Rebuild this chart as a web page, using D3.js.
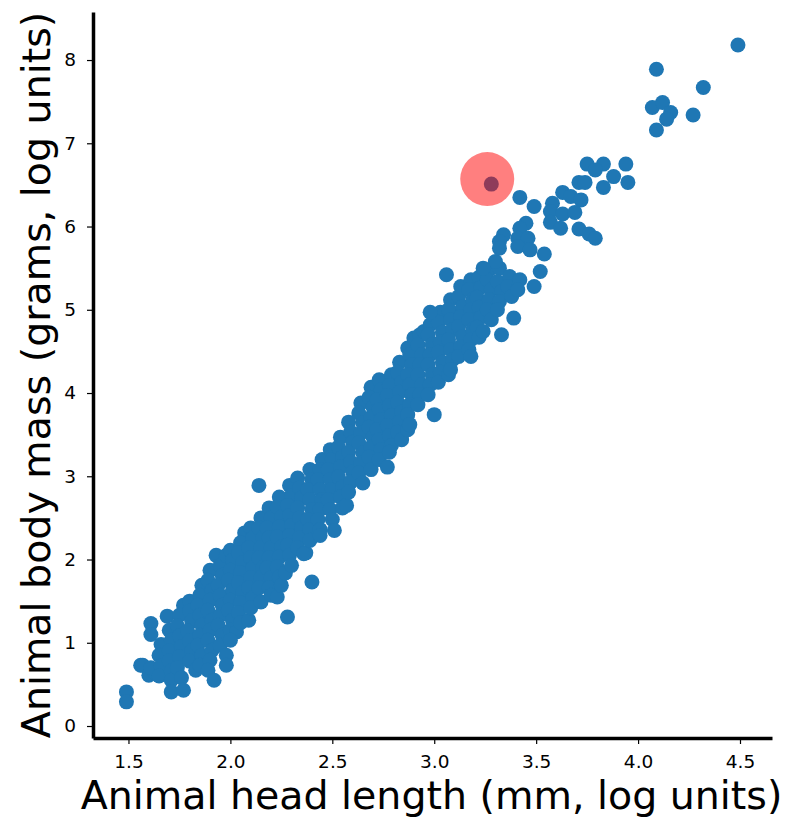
<!DOCTYPE html>
<html>
<head>
<meta charset="utf-8">
<script src="https://cdn.jsdelivr.net/npm/d3@7"></script>
<style>
  body { margin: 0; background: #fff; }
  svg { display: block; font-family: "DejaVu Sans", sans-serif; }
</style>
</head>
<body>
<svg id="chart" width="790" height="819"></svg>
<script>
// Head length vs body mass, both in log units: [head length, body mass]
const specimens = [
  // smallest animals
  [1.49,0.41],[1.49,0.29],[1.61,1.23],[1.61,1.10],[1.56,0.73],[1.57,0.73],[1.60,0.61],[1.63,0.64],
  [1.61,0.70],[1.66,0.98],[1.65,0.85],[1.66,0.72],[1.65,0.60],[1.69,1.32],
  [1.70,1.15],[1.71,1.03],[1.70,0.90],[1.70,0.78],[1.71,0.66],[1.71,0.55],[1.71,0.41],
  [1.77,1.45],[1.75,1.33],[1.74,1.20],[1.75,1.08],[1.76,0.95],[1.75,0.83],[1.74,0.70],[1.76,0.58],[1.77,0.43],
  [1.80,1.50],[1.80,1.38],[1.81,1.26],[1.79,1.14],[1.80,1.02],[1.81,0.90],[1.80,0.78],[1.83,0.67],
  [1.86,1.69],[1.85,1.57],[1.84,1.45],[1.85,1.33],[1.86,1.21],[1.85,1.09],[1.84,0.97],[1.86,0.85],[1.85,0.73],
  [1.90,1.87],[1.89,1.75],[1.91,1.63],[1.90,1.51],[1.89,1.39],[1.91,1.27],[1.90,1.15],[1.89,1.03],
  [1.91,0.91],[1.90,0.79],[1.89,0.67],[1.92,0.55],
  [1.93,2.05],[1.95,1.93],[1.96,1.81],[1.94,1.69],[1.95,1.57],[1.96,1.45],[1.95,1.33],[1.94,1.21],
  [1.96,1.09],[1.95,0.97],[1.98,0.85],[1.98,0.73],
  [1.98,2.05],[2.00,2.11],[2.01,1.99],[2.00,1.87],[1.99,1.75],[2.01,1.63],[2.00,1.51],[1.99,1.39],
  [2.01,1.27],[2.00,1.15],[2.03,1.13],[2.00,1.03],
  // small to mid-sized
  [2.07,2.32],[2.05,2.20],[2.04,2.08],[2.06,1.96],[2.05,1.84],[2.04,1.72],[2.06,1.60],[2.05,1.48],[2.04,1.36],[2.05,1.24],
  [2.09,1.27],[2.10,2.38],[2.11,2.26],[2.09,2.14],[2.10,2.02],[2.11,1.90],[2.10,1.78],[2.09,1.66],[2.11,1.54],[2.10,1.42],
  [2.15,2.50],[2.14,2.38],[2.16,2.26],[2.15,2.14],[2.14,2.02],[2.16,1.90],[2.15,1.78],[2.14,1.66],[2.15,1.49],
  [2.19,2.62],[2.20,2.50],[2.18,2.38],[2.19,2.26],[2.20,2.14],[2.19,2.02],[2.18,1.90],[2.20,1.78],[2.19,1.66],[2.20,1.57],
  [2.24,2.75],[2.23,2.63],[2.25,2.51],[2.24,2.39],[2.23,2.27],[2.25,2.15],[2.24,2.03],[2.23,1.91],[2.24,1.79],[2.23,1.55],[2.25,1.69],
  [2.27,1.84],[2.29,2.89],[2.30,2.77],[2.28,2.65],[2.29,2.53],[2.30,2.41],[2.29,2.29],[2.28,2.17],[2.29,2.05],[2.30,1.93],
  [2.33,2.98],[2.34,2.86],[2.35,2.74],[2.33,2.62],[2.34,2.50],[2.35,2.38],[2.34,2.26],[2.33,2.14],[2.37,2.08],[2.36,2.07],
  [2.39,3.08],[2.40,2.96],[2.38,2.84],[2.39,2.72],[2.40,2.60],[2.38,2.48],[2.39,2.36],[2.39,2.23],
  [2.45,3.20],[2.44,3.08],[2.43,2.96],[2.44,2.84],[2.45,2.72],[2.44,2.60],[2.43,2.48],[2.44,2.36],[2.44,2.29],
  [2.49,3.32],[2.50,3.20],[2.48,3.08],[2.49,2.96],[2.50,2.84],[2.48,2.72],[2.49,2.60],[2.50,2.48],[2.51,2.35],
  [2.54,3.47],[2.53,3.35],[2.55,3.23],[2.54,3.11],[2.53,2.99],[2.55,2.87],[2.54,2.75],[2.55,2.62],[2.57,2.65],
  [2.58,3.65],[2.59,3.53],[2.60,3.41],[2.58,3.29],[2.59,3.17],[2.60,3.05],[2.59,2.93],[2.58,2.81],
  [2.64,3.88],[2.63,3.76],[2.65,3.64],[2.64,3.52],[2.63,3.40],[2.65,3.28],[2.64,3.16],[2.63,3.04],[2.65,2.92],
  [2.69,4.07],[2.68,3.95],[2.70,3.83],[2.69,3.71],[2.68,3.59],[2.70,3.47],[2.69,3.35],[2.68,3.23],[2.69,3.08],
  [2.73,4.16],[2.74,4.04],[2.72,3.92],[2.73,3.80],[2.74,3.68],[2.72,3.56],[2.73,3.44],[2.74,3.32],[2.73,3.20],
  [2.79,4.22],[2.78,4.09],[2.77,3.97],[2.78,3.85],[2.79,3.73],[2.77,3.61],[2.78,3.49],[2.79,3.37],[2.78,3.29],
  [2.83,4.37],[2.82,4.25],[2.84,4.13],[2.83,4.01],[2.82,3.89],[2.84,3.77],[2.83,3.65],[2.82,3.53],[2.84,3.44],
  [2.87,4.54],[2.88,4.46],[2.89,4.34],[2.87,4.22],[2.88,4.10],[2.89,3.98],[2.88,3.86],[2.87,3.74],[2.87,3.56],[2.88,3.62],
  [2.90,4.66],[2.93,4.70],[2.92,4.58],[2.94,4.46],[2.93,4.34],[2.92,4.22],[2.94,4.10],[2.93,3.98],[2.92,3.86],
  [2.95,4.74],[2.98,4.82],[2.97,4.70],[2.99,4.58],[2.98,4.46],[2.97,4.34],[2.99,4.22],[2.98,4.10],[2.97,3.98],
  // larger animals
  [3.03,4.97],[3.02,4.85],[3.04,4.73],[3.03,4.61],[3.02,4.49],[3.04,4.37],[3.03,4.25],[3.02,4.13],[3.07,4.22],
  [3.08,5.12],[3.09,4.96],[3.07,5.00],[3.08,4.88],[3.09,4.76],[3.07,4.64],[3.08,4.52],[3.09,4.40],[3.08,4.28],
  [3.13,5.28],[3.12,5.16],[3.14,5.04],[3.13,4.92],[3.12,4.80],[3.14,4.68],[3.13,4.56],[3.12,4.44],
  [3.18,5.36],[3.17,5.24],[3.19,5.12],[3.18,5.00],[3.17,4.88],[3.19,4.76],[3.18,4.64],[3.17,4.52],[3.18,4.44],
  [3.22,5.39],[3.23,5.27],[3.21,5.15],[3.22,5.03],[3.23,4.91],[3.21,4.79],[3.22,4.67],[3.24,4.74],
  [3.27,5.48],[3.26,5.36],[3.28,5.24],[3.27,5.12],[3.26,5.00],[3.28,4.88],
  [3.32,5.50],[3.31,5.34],[3.33,5.22],[3.32,5.10],[3.31,5.00],
  [3.37,5.40],[3.36,5.28],[3.38,5.16],[3.42,5.36],[3.41,5.24],
  // scattered individuals off the main band
  [3.06,5.42],[2.98,4.97],[3.00,3.74],[2.77,3.11],[2.40,1.73],[2.28,1.31],[2.14,2.89],
  [3.39,4.90],[3.33,4.70],[3.30,5.58],[3.24,5.50],
  [3.45,6.04],[3.42,5.98],[3.34,5.90],[3.32,5.82],[3.32,5.74],[3.41,5.86],[3.46,5.86],[3.41,5.76],
  [3.47,5.72],[3.54,5.67],[3.52,5.46],[3.49,5.28],
  [3.42,6.35],[3.49,6.24],[3.28,6.51],
  // largest animals
  [3.75,6.75],[3.83,6.75],[3.94,6.75],[3.79,6.68],[3.88,6.60],[3.95,6.53],[3.83,6.47],[3.71,6.53],[3.74,6.53],
  [3.63,6.41],[3.67,6.36],[3.72,6.32],[3.58,6.28],[3.57,6.18],[3.63,6.15],[3.69,6.17],[3.57,6.05],
  [3.62,5.98],[3.71,5.97],[3.76,5.91],[3.79,5.86],
  [4.49,8.18],[4.09,7.89],[4.32,7.67],[4.07,7.43],[4.12,7.49],[4.16,7.37],[4.14,7.29],[4.27,7.34],[4.09,7.16]
];

// Specimen singled out with a red halo
const highlighted = [3.26, 6.57];

const xTicks = [1.5, 2.0, 2.5, 3.0, 3.5, 4.0, 4.5];
const yTicks = [0, 1, 2, 3, 4, 5, 6, 7, 8];
const xDomain = [1.326, 4.657];
const yDomain = [-0.144, 8.577];

const xLabel = "Animal head length (mm, log units)";
const yLabel = "Animal body mass (grams, log units)";

const plot = { left: 93, right: 772, top: 12, bottom: 738 };

const svg = d3.select("#chart");

const x = d3.scaleLinear().domain(xDomain).range([plot.left, plot.right]);
const y = d3.scaleLinear().domain(yDomain).range([plot.bottom, plot.top]);

// points
svg.append("g")
  .selectAll("circle")
  .data(specimens)
  .join("circle")
  .attr("cx", d => x(d[0]))
  .attr("cy", d => y(d[1]))
  .attr("r", 7.5)
  .attr("fill", "#1f77b4");

// halo over the highlighted specimen
svg.append("circle")
  .attr("cx", x(highlighted[0]))
  .attr("cy", y(highlighted[1]))
  .attr("r", 27)
  .attr("fill", "red")
  .attr("fill-opacity", 0.5);

// axes
const xAxis = svg.append("g")
  .attr("transform", `translate(0,${plot.bottom})`)
  .call(d3.axisBottom(x).tickValues(xTicks).tickFormat(d3.format(".1f"))
    .tickSize(6).tickSizeOuter(0).tickPadding(11));

const yAxis = svg.append("g")
  .attr("transform", `translate(${plot.left},0)`)
  .call(d3.axisLeft(y).tickValues(yTicks).tickFormat(d3.format("d"))
    .tickSize(6).tickSizeOuter(0).tickPadding(11));

[xAxis, yAxis].forEach(a => {
  a.select(".domain").attr("stroke", "#000").attr("stroke-width", 3.5);
  a.selectAll(".tick line").attr("stroke", "#000").attr("stroke-width", 1.2);
  a.selectAll(".tick text")
    .attr("fill", "#000")
    .style("font-family", "'DejaVu Sans', sans-serif")
    .style("font-size", "18.5px");
});

// axis titles
svg.append("text")
  .attr("x", (plot.left + plot.right) / 2 - 1)
  .attr("y", 809)
  .attr("text-anchor", "middle")
  .style("font-size", "39.5px")
  .text(xLabel);

svg.append("text")
  .attr("transform", `translate(50,${(plot.top + plot.bottom) / 2}) rotate(-90)`)
  .attr("text-anchor", "middle")
  .style("font-size", "39.5px")
  .text(yLabel);
</script>
</body>
</html>
